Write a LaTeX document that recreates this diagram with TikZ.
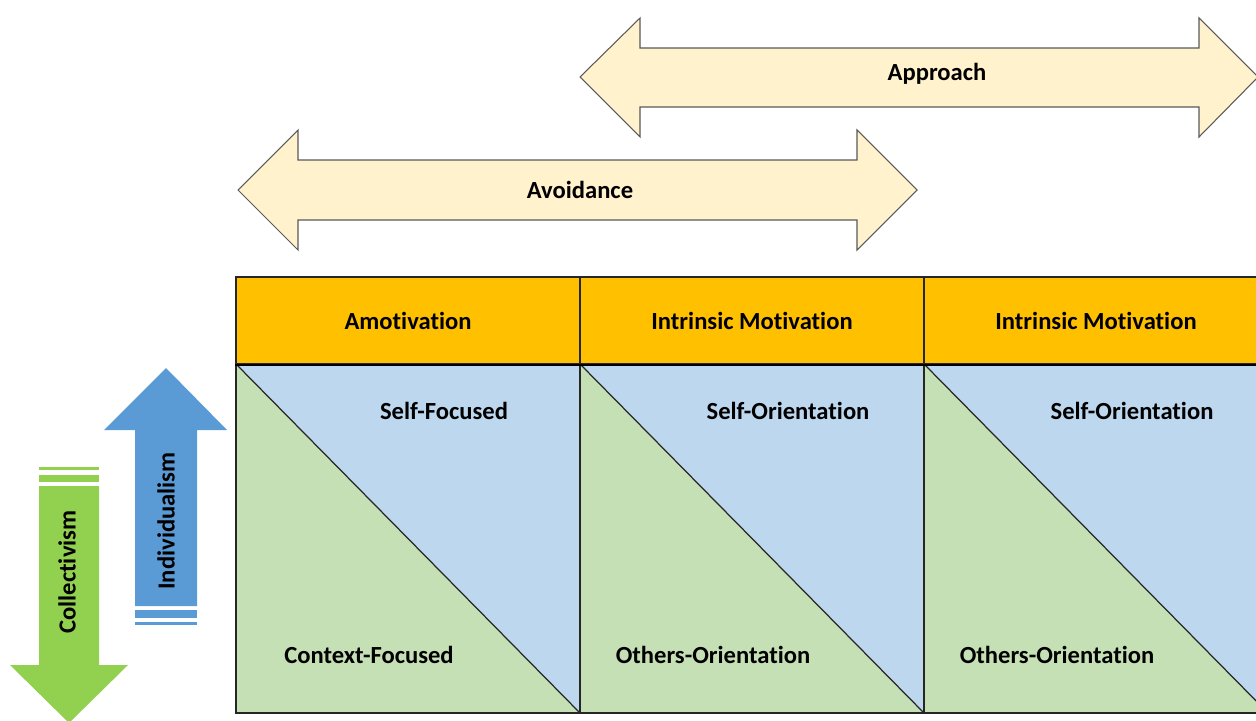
\documentclass[tikz,border=0pt]{standalone}
\usepackage{fontspec}
\setmainfont{Carlito}[Ligatures={NoCommon}]
\usetikzlibrary{positioning}
\definecolor{headfill}{HTML}{FFC000}
\definecolor{selffill}{HTML}{BDD7EE}
\definecolor{othfill}{HTML}{C5E0B4}
\definecolor{bandfill}{HTML}{FFF2CC}
\definecolor{indfill}{HTML}{5B9BD5}
\definecolor{colfill}{HTML}{92D050}

\begin{document}
\begin{tikzpicture}[x=0.02cm,y=-0.02cm,
    lbl/.style={font=\bfseries\fontsize{14}{16}\selectfont, inner sep=0pt},
    band/.style={fill=bandfill, draw=black!65, line width=0.6pt, line join=miter},
    headcell/.style={lbl, fill=headfill, draw=black!85, line width=0.7pt,
                     minimum width=6.88cm, minimum height=1.74cm}]
  \useasboundingbox (0,0) rectangle (1256,720);

  % double arrows on top
  \draw[band] (580,77) -- (640,18) -- (640,48) -- (1199,48) -- (1199,18) -- (1258,77)
              -- (1199,137) -- (1199,107) -- (640,107) -- (640,137) -- cycle;
  \node[lbl] (appr) at (937,74) {Approach};
  \draw[band] (238,190) -- (298,130) -- (298,160) -- (857,160) -- (857,130) -- (917,190)
              -- (857,250) -- (857,220) -- (298,220) -- (298,250) -- cycle;
  \node[lbl] (avoid) at (580,190) {Avoidance};

  % table
  \foreach \i/\hd/\up/\lo in {0/Amotivation/Self-Focused/Context-Focused,
                              1/Intrinsic Motivation/Self-Orientation/Others-Orientation,
                              2/Intrinsic Motivation/Self-Orientation/Others-Orientation}{
    \pgfmathsetmacro{\xa}{236+344*\i}
    \fill[selffill] (\xa,364) rectangle (\xa+344,713);
    \fill[othfill] (\xa,364) -- (\xa+344,713) -- (\xa,713) -- cycle;
    \draw[black!85, line width=0.7pt] (\xa,364) -- (\xa+344,713);
    \draw[black!85, line width=0.7pt] (\xa,364) rectangle (\xa+344,713);
    \node[headcell] (h\i) at (\xa+172,320.5) {\hd};
    \node[lbl] (s\i) at (\xa+208,411) {\up};
    \node[lbl] (o\i) at (\xa+133,655) {\lo};
  }
  \draw[black, line width=1.2pt] (h0.south west) -- (h2.south east);

  % side arrows
  \fill[indfill] (166,368) -- (227,430) -- (197,430) -- (197,606) -- (135,606)
                 -- (135,430) -- (104,430) -- cycle;
  \fill[indfill] (135,610) rectangle (197,618);
  \fill[indfill] (135,622) rectangle (197,625);
  \node[lbl, rotate=90] (ind) at (166,521) {Individualism};

  \fill[colfill] (39,486) -- (99,486) -- (99,665) -- (128,665) -- (69,723)
                 -- (10,665) -- (39,665) -- cycle;
  \fill[colfill] (39,467) rectangle (99,470);
  \fill[colfill] (39,475) rectangle (99,482);
  \node[lbl, rotate=90] (coll) at (67,572) {Collectivism};
\end{tikzpicture}
\end{document}
